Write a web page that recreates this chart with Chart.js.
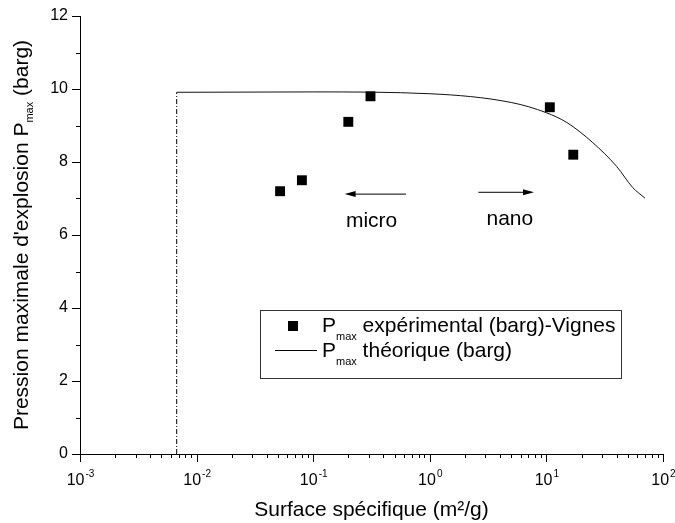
<!DOCTYPE html>
<html>
<head>
<meta charset="utf-8">
<script src="https://cdn.jsdelivr.net/npm/chart.js@4/dist/chart.umd.min.js"></script>
<style>
  html, body { margin: 0; padding: 0; background: #fff; }
  #wrap { width: 675px; height: 523px; }
</style>
</head>
<body>
<div id="wrap"><canvas id="pmaxChart" width="675" height="523"></canvas></div>
<script>
// experimental points (Vignes)
const expX = [0.052, 0.08, 0.2, 0.31, 10.7, 17];
const expY = [7.2, 7.5, 9.1, 9.8, 9.5, 8.2];

// theoretical curve
const theoX = [0.00675, 0.1, 1, 5, 10, 15, 25, 40, 55, 70];
const theoY = [9.91, 9.92, 9.87, 9.63, 9.35, 9.08, 8.53, 7.88, 7.30, 7.01];

// vertical dash-dot limit
const limitX = [0.00675, 0.00675];
const limitY = [0, 9.91];

// axis ticks
const xMajor = [0.001, 0.01, 0.1, 1, 10, 100];
const xExp = ['-3', '-2', '-1', '0', '1', '2'];
const yMajor = [0, 2, 4, 6, 8, 10, 12];
const yMinor = [1, 3, 5, 7, 9, 11];

const FONT = "'Liberation Sans', Arial, Helvetica, sans-serif";

function pts(xs, ys) {
    return xs.map((x, i) => ({ x: x, y: ys[i] }));
}

function arrow(ctx, x1, y, x2) {
    const dir = x2 > x1 ? 1 : -1;
    ctx.beginPath();
    ctx.moveTo(x1, y);
    ctx.lineTo(x2 - dir * 8, y);
    ctx.stroke();
    ctx.beginPath();
    ctx.moveTo(x2, y);
    ctx.lineTo(x2 - dir * 11, y - 3);
    ctx.lineTo(x2 - dir * 11, y + 3);
    ctx.closePath();
    ctx.fill();
}

const decorPlugin = {
    id: 'decor',
    afterDraw(chart) {
        const ctx = chart.ctx;
        const xs = chart.scales.x;
        const ys = chart.scales.y;
        const area = chart.chartArea;
        ctx.save();
        ctx.strokeStyle = '#000';
        ctx.fillStyle = '#000';
        ctx.lineWidth = 1;

        // x ticks
        ctx.beginPath();
        xMajor.forEach((v, i) => {
            const px = Math.round(xs.getPixelForValue(v)) + 0.5;
            ctx.moveTo(px, area.bottom);
            ctx.lineTo(px, area.bottom + 8);
            if (i < xMajor.length - 1) {
                for (let k = 2; k <= 9; k++) {
                    const mx = Math.round(xs.getPixelForValue(v * k)) + 0.5;
                    ctx.moveTo(mx, area.bottom);
                    ctx.lineTo(mx, area.bottom + 4);
                }
            }
        });
        // y ticks
        yMajor.forEach(v => {
            const py = Math.round(ys.getPixelForValue(v)) + 0.5;
            ctx.moveTo(area.left, py);
            ctx.lineTo(area.left - 8, py);
        });
        yMinor.forEach(v => {
            const py = Math.round(ys.getPixelForValue(v)) + 0.5;
            ctx.moveTo(area.left, py);
            ctx.lineTo(area.left - 4, py);
        });
        ctx.stroke();

        // x tick labels 10^n
        ctx.textBaseline = 'alphabetic';
        xMajor.forEach((v, i) => {
            const px = xs.getPixelForValue(v);
            ctx.font = '16px ' + FONT;
            const wBase = ctx.measureText('10').width;
            ctx.font = '10px ' + FONT;
            const wExp = ctx.measureText(xExp[i]).width;
            const left = px - (wBase + wExp) / 2;
            ctx.textAlign = 'left';
            ctx.font = '16px ' + FONT;
            ctx.fillText('10', left, area.bottom + 31);
            ctx.font = '10px ' + FONT;
            ctx.fillText(xExp[i], left + wBase + 1, area.bottom + 23);
        });

        // y tick labels
        ctx.font = '16px ' + FONT;
        ctx.textAlign = 'right';
        ctx.textBaseline = 'middle';
        yMajor.forEach(v => {
            ctx.fillText(String(v), area.left - 12, ys.getPixelForValue(v));
        });

        // x title
        ctx.font = '21px ' + FONT;
        ctx.textAlign = 'center';
        ctx.textBaseline = 'alphabetic';
        ctx.fillText('Surface spécifique (m²/g)', (area.left + area.right) / 2, area.bottom + 62);

        // y title with subscript
        ctx.save();
        ctx.translate(28, (area.top + area.bottom) / 2);
        ctx.rotate(-Math.PI / 2);
        const partA = "Pression maximale d'explosion P";
        const partB = 'max';
        const partC = ' (barg)';
        ctx.font = '21px ' + FONT;
        const wA = ctx.measureText(partA).width;
        const wC = ctx.measureText(partC).width;
        ctx.font = '11px ' + FONT;
        const wB = ctx.measureText(partB).width;
        let tx = -(wA + wB + wC) / 2;
        ctx.textAlign = 'left';
        ctx.font = '21px ' + FONT;
        ctx.fillText(partA, tx, 0);
        tx += wA;
        ctx.font = '11px ' + FONT;
        ctx.fillText(partB, tx, 5);
        tx += wB;
        ctx.font = '21px ' + FONT;
        ctx.fillText(partC, tx, 0);
        ctx.restore();

        // micro / nano arrows and labels
        ctx.lineWidth = 1;
        const ay1 = ys.getPixelForValue(7.12);
        arrow(ctx, xs.getPixelForValue(0.625), ay1, xs.getPixelForValue(0.186));
        const ay2 = ys.getPixelForValue(7.17);
        arrow(ctx, xs.getPixelForValue(2.61), ay2, xs.getPixelForValue(7.83));
        ctx.font = '21px ' + FONT;
        ctx.textAlign = 'center';
        ctx.textBaseline = 'middle';
        ctx.fillText('micro', xs.getPixelForValue(0.317), ys.getPixelForValue(6.38));
        ctx.fillText('nano', xs.getPixelForValue(4.86), ys.getPixelForValue(6.42));

        // legend box
        const bx = 260.5, by = 310.5, bw = 361, bh = 68;
        ctx.strokeStyle = '#333';
        ctx.strokeRect(bx, by, bw, bh);
        ctx.fillStyle = '#000';
        ctx.fillRect(288, 321, 10, 10);
        ctx.strokeStyle = '#000';
        ctx.beginPath();
        ctx.moveTo(275, 350.5);
        ctx.lineTo(317, 350.5);
        ctx.stroke();
        const rows = [
            [332, ' expérimental (barg)-Vignes'],
            [357, ' théorique (barg)']
        ];
        ctx.textAlign = 'left';
        ctx.textBaseline = 'alphabetic';
        rows.forEach(([yb, rest]) => {
            let lx = 322;
            ctx.font = '21px ' + FONT;
            ctx.fillText('P', lx, yb);
            lx += ctx.measureText('P').width;
            ctx.font = '11px ' + FONT;
            ctx.fillText('max', lx, yb + 8);
            lx += ctx.measureText('max').width;
            ctx.font = '21px ' + FONT;
            ctx.fillText(rest, lx, yb);
        });
        ctx.restore();
    }
};

new Chart(document.getElementById('pmaxChart'), {
    type: 'scatter',
    data: {
        datasets: [
            {
                label: 'Pmax expérimental (barg)-Vignes',
                data: pts(expX, expY),
                pointStyle: 'rect',
                pointRadius: 7,
                backgroundColor: '#000',
                borderColor: '#000',
                borderWidth: 0,
                showLine: false
            },
            {
                label: 'Pmax théorique (barg)',
                data: pts(theoX, theoY),
                showLine: true,
                borderColor: '#111',
                borderWidth: 1,
                pointRadius: 0,
                cubicInterpolationMode: 'monotone'
            },
            {
                label: 'limit',
                data: pts(limitX, limitY),
                showLine: true,
                borderColor: '#000',
                borderWidth: 1,
                borderDash: [5, 2, 1, 2],
                pointRadius: 0
            }
        ]
    },
    options: {
        responsive: false,
        animation: false,
        devicePixelRatio: 1,
        layout: { padding: { left: 80, right: 12, top: 16, bottom: 69 } },
        plugins: {
            legend: { display: false },
            tooltip: { enabled: false }
        },
        scales: {
            x: {
                type: 'logarithmic',
                min: 0.001,
                max: 100,
                grid: { display: false },
                border: { display: true, color: '#000', width: 1 },
                ticks: { display: false },
                afterFit: (s) => { s.height = 0; }
            },
            y: {
                type: 'linear',
                min: 0,
                max: 12,
                grid: { display: false },
                border: { display: true, color: '#000', width: 1 },
                ticks: { display: false },
                afterFit: (s) => { s.width = 0; }
            }
        }
    },
    plugins: [decorPlugin]
});
</script>
</body>
</html>
